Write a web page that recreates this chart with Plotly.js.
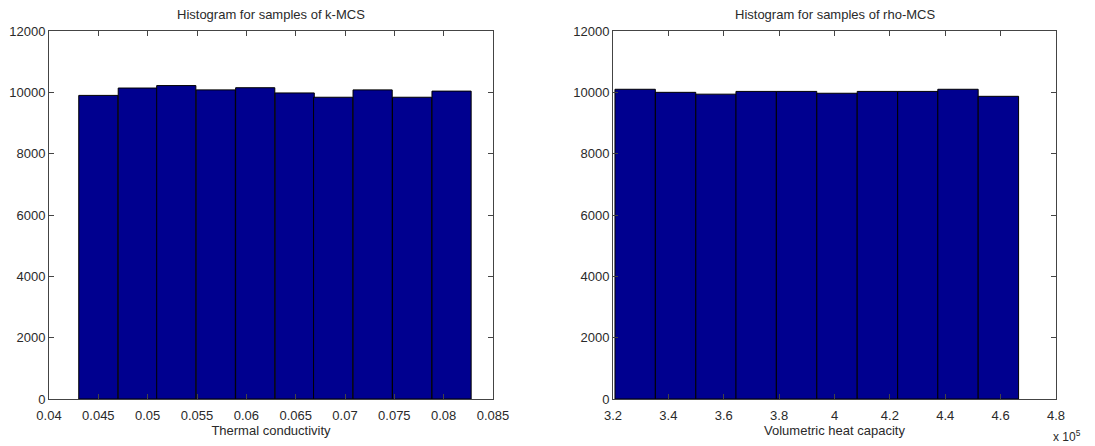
<!DOCTYPE html>
<html>
<head>
<meta charset="utf-8">
<script src="https://cdn.plot.ly/plotly-3.0.1.min.js"></script>
<style>html,body{margin:0;padding:0;background:#fff;}#chart{width:1095px;height:446px;}</style>
</head>
<body>
<div id="chart"></div>
<script>
// Histogram of k-MCS samples (thermal conductivity)
const kBinCenters = [0.0450, 0.0490, 0.0529, 0.0569, 0.0609, 0.0649, 0.0688, 0.0728, 0.0768, 0.0808];
const kCounts = [9900, 10140, 10220, 10080, 10150, 9980, 9840, 10080, 9840, 10040];
const kBinWidth = 0.00397;
const kTicks = [0.04, 0.045, 0.05, 0.055, 0.06, 0.065, 0.07, 0.075, 0.08, 0.085];
const kTickText = ['0.04', '0.045', '0.05', '0.055', '0.06', '0.065', '0.07', '0.075', '0.08', '0.085'];

// Histogram of rho-MCS samples (volumetric heat capacity)
const rhoBinCenters = [328000, 342600, 357200, 371700, 386300, 400900, 415500, 430100, 444600, 459200];
const rhoCounts = [10100, 10000, 9940, 10030, 10030, 9970, 10030, 10030, 10100, 9870];
const rhoBinWidth = 14580;
const rhoTicks = [320000, 340000, 360000, 380000, 400000, 420000, 440000, 460000, 480000];
const rhoTickText = ['3.2', '3.4', '3.6', '3.8', '4', '4.2', '4.4', '4.6', '4.8'];

const yTicks = [0, 2000, 4000, 6000, 8000, 10000, 12000];

const barColor = '#00008f';
const textColor = '#2a2a2a';
const font = {family: 'Liberation Sans, Arial, sans-serif', size: 13, color: textColor};

const W = 1095, H = 446;
const plotTop = 31, plotBottom = 399;
const yDom = [1 - plotBottom / H, 1 - plotTop / H];

function xAxis(domain, range, tv, tt, title, anchor) {
  return {
    domain: domain, range: range, anchor: anchor,
    tickvals: tv, ticktext: tt, ticks: 'inside', ticklen: 5, tickcolor: '#444',
    showline: true, linecolor: '#444', linewidth: 1, mirror: 'allticks',
    showgrid: false, zeroline: false, fixedrange: true,
    tickfont: font, ticklabelstandoff: 4,
    title: {text: title, font: font, standoff: 1}
  };
}
function yAxis(anchor) {
  return {
    domain: yDom, range: [0, 12000], anchor: anchor,
    tickvals: yTicks, ticktext: yTicks.map(String), ticks: 'inside', ticklen: 5, tickcolor: '#444',
    showline: true, linecolor: '#444', linewidth: 1, mirror: 'allticks',
    showgrid: false, zeroline: false, fixedrange: true,
    tickfont: font
  };
}

const data = [
  {type: 'bar', x: kBinCenters, y: kCounts, width: kBinWidth, xaxis: 'x', yaxis: 'y',
   marker: {color: barColor, line: {color: '#000', width: 1}}, hoverinfo: 'x+y'},
  {type: 'bar', x: rhoBinCenters, y: rhoCounts, width: rhoBinWidth, xaxis: 'x2', yaxis: 'y2',
   marker: {color: barColor, line: {color: '#000', width: 1}}, hoverinfo: 'x+y'}
];

const layout = {
  width: W, height: H,
  margin: {l: 0, r: 0, t: 0, b: 0},
  paper_bgcolor: '#fff', plot_bgcolor: '#fff',
  showlegend: false, bargap: 0,
  font: font,
  xaxis: xAxis([49 / W, 493 / W], [0.04, 0.085], kTicks, kTickText, 'Thermal conductivity', 'y'),
  yaxis: yAxis('x'),
  xaxis2: xAxis([613 / W, 1056 / W], [320000, 480000], rhoTicks, rhoTickText, 'Volumetric heat capacity', 'y2'),
  yaxis2: yAxis('x2'),
  annotations: [
    {text: 'Histogram for samples of k-MCS', xref: 'paper', yref: 'paper', x: (49 + 493) / 2 / W, y: 1 - 15 / H,
     xanchor: 'center', yanchor: 'middle', showarrow: false, font: font},
    {text: 'Histogram for samples of rho-MCS', xref: 'paper', yref: 'paper', x: (613 + 1056) / 2 / W, y: 1 - 15 / H,
     xanchor: 'center', yanchor: 'middle', showarrow: false, font: font},
    {text: 'x 10<sup>5</sup>', xref: 'paper', yref: 'paper', x: 1051 / W, y: 1 - 436 / H,
     xanchor: 'left', yanchor: 'middle', showarrow: false, font: {family: font.family, size: 12, color: textColor}}
  ]
};

Plotly.newPlot('chart', data, layout, {displayModeBar: false, staticPlot: true});
</script>
</body>
</html>
